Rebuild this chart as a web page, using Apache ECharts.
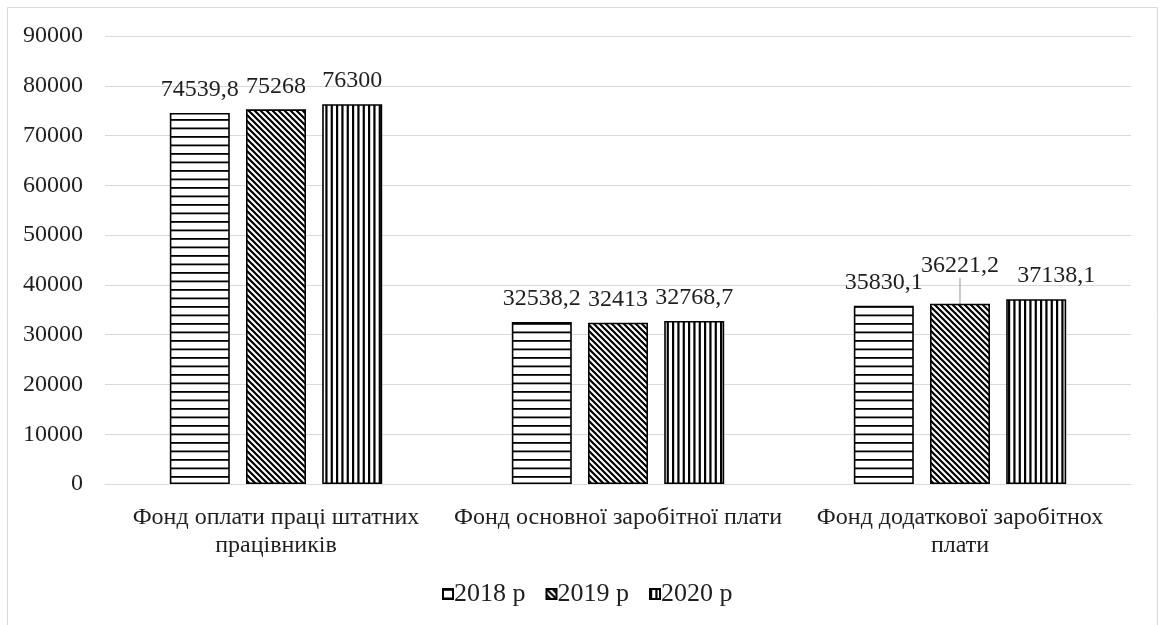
<!DOCTYPE html>
<html>
<head>
<meta charset="utf-8">
<script src="https://cdn.jsdelivr.net/npm/echarts@6/dist/echarts.min.js"></script>
<style>
  html, body { margin: 0; padding: 0; background: #fff; }
  #chart { width: 1159px; height: 625px; }
</style>
</head>
<body>
<div id="chart"></div>
<script>
// Payroll funds by year
const categories = [
  'Фонд оплати праці штатних\nпрацівників',
  'Фонд основної заробітної плати',
  'Фонд додаткової заробітнох\nплати'
];
const seriesNames = ['2018 р', '2019 р', '2020 р'];
const values2018 = [74539.8, 32538.2, 35830.1];
const values2019 = [75268, 32413, 36221.2];
const values2020 = [76300, 32768.7, 37138.1];

const FONT = '"Liberation Serif", "Times New Roman", serif';
const TEXT = '#1f1f1f';

// Hatch fills drawn on small canvas tiles
function hatch(kind) {
  const c = document.createElement('canvas');
  const g = c.getContext('2d');
  if (kind === 'h') {
    c.width = 4; c.height = 17;
    g.fillStyle = '#fff'; g.fillRect(0, 0, 4, 17);
    g.fillStyle = '#000';
    g.fillRect(0, 0, 4, 1.8);
    g.fillRect(0, 8.5, 4, 1.8);
  } else if (kind === 'v') {
    c.width = 16; c.height = 4;
    g.fillStyle = '#fff'; g.fillRect(0, 0, 16, 4);
    g.fillStyle = '#000';
    g.fillRect(0, 0, 2.2, 4);
    g.fillRect(5.33, 0, 2.2, 4);
    g.fillRect(10.67, 0, 2.2, 4);
  } else {
    const p = 6;
    c.width = p; c.height = p;
    g.fillStyle = '#fff'; g.fillRect(0, 0, p, p);
    g.strokeStyle = '#000';
    g.lineWidth = 2.2;
    g.beginPath();
    g.moveTo(-p, 0); g.lineTo(p, 2 * p);
    g.moveTo(0, 0); g.lineTo(2 * p, 2 * p);
    g.moveTo(0, -p); g.lineTo(2 * p, p);
    g.moveTo(-p, -p); g.lineTo(p, p);
    g.stroke();
  }
  return { image: c, repeat: 'repeat' };
}

const fills = [hatch('h'), hatch('d'), hatch('v')];
const seriesData = [values2018, values2019, values2020];

// Labels nudged off their default spot: [series, category] -> offset
const labelShift = { '1-2': { dy: -15 }, '2-2': { dx: 20 } };
// Labels tied back to their bar with a leader line
const leaderLabels = { '1-2': true };

const chart = echarts.init(document.getElementById('chart'), null, { renderer: 'canvas' });

const series = seriesData.map((vals, i) => ({
  name: seriesNames[i],
  type: 'bar',
  data: vals.map((v, j) => leaderLabels[i + '-' + j]
    ? { value: v, labelLine: { show: true, lineStyle: { color: '#a6a6a6', width: 1.2 } } }
    : { value: v, labelLine: { show: false } }),
  barWidth: 60,
  barGap: '27%',
  itemStyle: { color: fills[i], borderColor: '#000', borderWidth: 1.6 },
  label: {
    show: true,
    position: 'top',
    distance: 11,
    fontFamily: FONT,
    fontSize: 24,
    color: TEXT,
    formatter: p => String(p.value).replace('.', ',')
  },
  labelLayout: function (p) {
    return labelShift[i + '-' + p.dataIndex];
  }
}));

chart.setOption({
  animation: false,
  backgroundColor: '#fff',
  graphic: [{
    type: 'rect',
    shape: { x: 7.5, y: 7.5, width: 1150, height: 700 },
    style: { fill: 'none', stroke: '#d9d9d9', lineWidth: 1 },
    silent: true
  }],
  grid: { left: 105, right: 28, top: 36, bottom: 141 },
  legend: {
    top: 576,
    left: 437,
    icon: 'rect',
    itemWidth: 10,
    itemHeight: 10,
    itemGap: 20,
    itemStyle: { borderColor: '#000', borderWidth: 2 },
    textStyle: { fontFamily: FONT, fontSize: 26, color: TEXT, padding: [0, 0, 0, -4] },
    data: seriesNames
  },
  xAxis: {
    type: 'category',
    data: categories,
    axisTick: { show: false },
    axisLine: { lineStyle: { color: '#d9d9d9', width: 1 } },
    axisLabel: {
      fontFamily: FONT,
      fontSize: 24,
      color: TEXT,
      margin: 20,
      lineHeight: 28,
      interval: 0
    }
  },
  yAxis: {
    type: 'value',
    min: 0,
    max: 90000,
    interval: 10000,
    axisLine: { show: false },
    axisTick: { show: false },
    splitLine: { lineStyle: { color: '#d9d9d9', width: 1 } },
    axisLabel: {
      fontFamily: FONT,
      fontSize: 24,
      color: TEXT,
      margin: 22,
      formatter: v => String(v)
    }
  },
  series: series
});
</script>
</body>
</html>
